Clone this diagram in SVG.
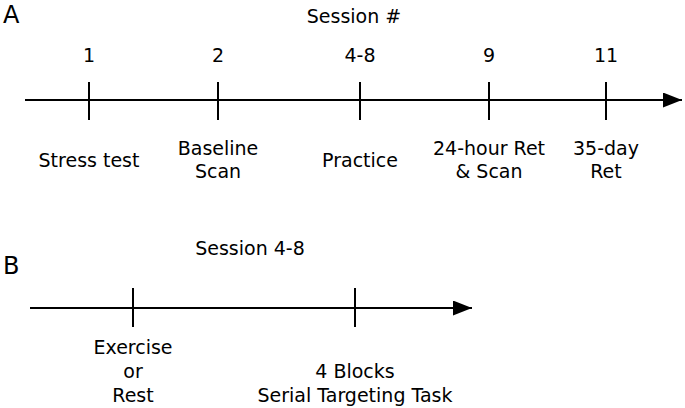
<svg xmlns="http://www.w3.org/2000/svg" width="685" height="408" viewBox="0 0 685 408">
<style>
text{font-family:"DejaVu Sans","Liberation Sans",sans-serif;font-size:19px;fill:#000;text-anchor:middle}
.panel{font-size:24px;text-anchor:start}
.axis,.tick{stroke:#000;stroke-width:2;fill:none}
</style>
<defs>
<marker id="arr" markerWidth="20" markerHeight="16" refX="19" refY="7.5" orient="auto" markerUnits="userSpaceOnUse">
<path d="M0,0 L19,7.5 L0,15 Z" fill="#000"/>
</marker>
</defs>
<rect width="685" height="408" fill="#fff"/>
<g id="panelA">
<text class="panel" x="3" y="23">A</text>
<text x="354" y="23">Session #</text>
</g>
<g id="connectors">
<line class="axis" x1="25" y1="100" x2="682" y2="100" marker-end="url(#arr)"/>
<line class="axis" x1="30" y1="308" x2="472" y2="308" marker-end="url(#arr)"/>
</g>
<g id="s1"><line class="tick" x1="89" y1="82" x2="89" y2="120"/><text x="89" y="62">1</text><text x="89" y="167">Stress test</text></g>
<g id="s2"><line class="tick" x1="218" y1="82" x2="218" y2="120"/><text x="218" y="62">2</text><text x="218" y="155">Baseline</text><text x="218" y="178">Scan</text></g>
<g id="s48"><line class="tick" x1="360" y1="82" x2="360" y2="120"/><text x="360" y="62">4-8</text><text x="360" y="167">Practice</text></g>
<g id="s9"><line class="tick" x1="489" y1="82" x2="489" y2="120"/><text x="489" y="62">9</text><text x="489" y="155">24-hour Ret</text><text x="489" y="178">&amp; Scan</text></g>
<g id="s11"><line class="tick" x1="606" y1="82" x2="606" y2="120"/><text x="606" y="62">11</text><text x="606" y="155">35-day</text><text x="606" y="178">Ret</text></g>
<g id="panelB">
<text class="panel" x="3" y="274">B</text>
<text x="250" y="255">Session 4-8</text>
</g>
<g id="exercise"><line class="tick" x1="133" y1="288" x2="133" y2="327"/><text x="133" y="354">Exercise</text><text x="133" y="378">or</text><text x="133" y="402">Rest</text></g>
<g id="blocks"><line class="tick" x1="355" y1="288" x2="355" y2="327"/><text x="355" y="378">4 Blocks</text><text x="355" y="402">Serial Targeting Task</text></g>
</svg>
